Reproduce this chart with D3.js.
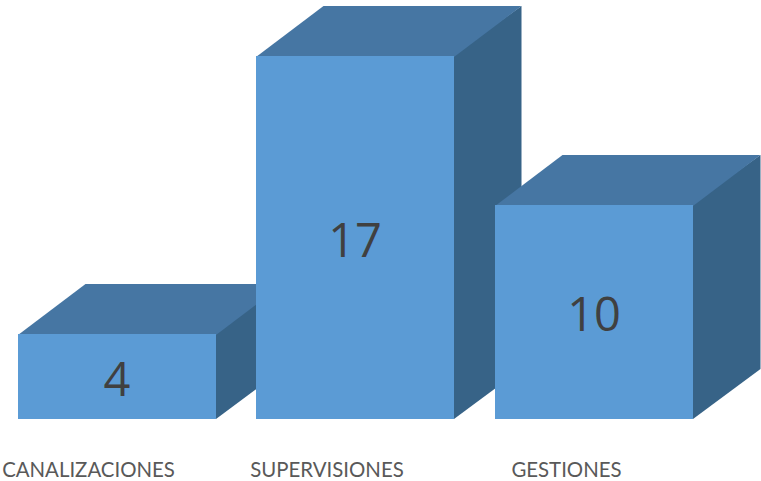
<!DOCTYPE html>
<html><head><meta charset="utf-8">
<script src="https://cdn.jsdelivr.net/npm/d3@7"></script>
<style>html,body{margin:0;padding:0;background:#fff}svg{display:block}</style>
</head><body><svg id="c" width="761" height="481"></svg>
<script>
const categories = ["CANALIZACIONES","SUPERVISIONES","GESTIONES"];
const values = [4,17,10];
const labelCenters = [88.5,327,566.5];
const svg = d3.select("#c");
const W = 198, dx = 67.5, dy = 50;
const x = d3.scalePoint().domain(categories).range([18,495]);
const y = d3.scaleLinear().domain([0,17]).range([419,56]);
const colFront="#5b9bd5", colTop="#4676a3", colSide="#376387";
categories.forEach((c,i)=>{
  const x0=Math.floor(x(c)), y0=Math.round(y(0)), yv=Math.round(y(values[i]));
  const g=svg.append("g");
  g.append("polygon").attr("fill",colSide).attr("points",[[x0+W-1,yv-1],[x0+W+dx,yv-dy],[x0+W+dx,y0-dy],[x0+W,y0],[x0+W-1,y0]].join(" "));
  g.append("polygon").attr("fill",colTop).attr("points",[[x0,yv+1],[x0+dx,yv-dy],[x0+W+dx,yv-dy],[x0+W,yv+1]].join(" "));
  g.append("rect").attr("fill",colFront).attr("x",x0).attr("y",yv).attr("width",W).attr("height",y0-yv);
  g.append("text").attr("x",x0+W/2).attr("y",(yv+y0)/2+19).attr("text-anchor","middle")
   .attr("font-family","'Open Sans',sans-serif").attr("font-size",47).attr("fill","#404040").text(values[i]);
  svg.append("text").attr("x",labelCenters[i]).attr("y",477).attr("text-anchor","middle")
   .attr("font-family","Lato,sans-serif").attr("font-size",20.4).attr("fill","#595959").text(c);
});
</script></body></html>
